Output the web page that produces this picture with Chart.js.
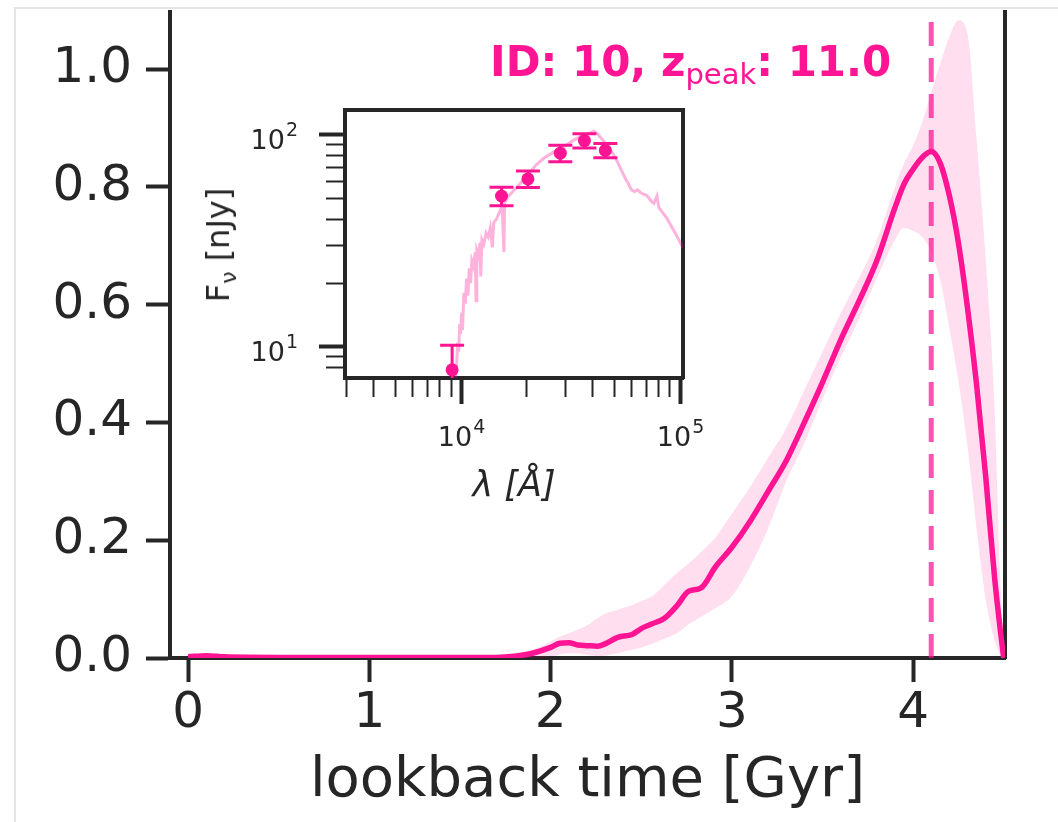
<!DOCTYPE html>
<html lang="en">
<head>
<meta charset="UTF-8">
<title>SFH with SED inset</title>
<style>
  body { margin: 0; background: #fff; font-family: "DejaVu Sans", sans-serif; }
  #wrap { position: relative; width: 1058px; height: 822px; overflow: hidden; }
  #frame { position: absolute; left: 14px; top: 7px; right: 0; bottom: 0;
           border-left: 2px solid #e4e4e4; border-top: 2px solid #e4e4e4; }
  #mainChart { position: absolute; left: 0; top: 0; }
  #insetChart { position: absolute; left: 180px; top: 90px; }
  #header { position: absolute; left: 490px; top: 41px; color: #ff1493; font-weight: bold;
            font-size: 42px; line-height: 42px; white-space: nowrap; }
  #header .sub { font-weight: normal; font-size: 29px; position: relative; top: 8px; }
  #insetY { position: absolute; left: 218px; top: 245px; transform: translate(-50%, -50%) rotate(-90deg);
            font-size: 32px; color: #262626; white-space: nowrap; }
  #insetY .sub { font-size: 22px; position: relative; top: 7px; }
</style>
<script src="https://cdn.jsdelivr.net/npm/chart.js@4.4.1/dist/chart.umd.min.js"></script>
</head>
<body>
<div id="wrap">
  <div id="frame"></div>
  <canvas id="mainChart" width="1058" height="822"></canvas>
  <div id="header">ID: 10, z<span class="sub">peak</span>: 11.0</div>
  <canvas id="insetChart" width="560" height="430"></canvas>
  <div id="insetY">F<span class="sub">ν</span> [nJy]</div>
</div>
<script>
    const INK = '#262626';
    const PINK = '#ff1493';
    const FONT = '"DejaVu Sans", sans-serif';

    // main panel: star formation history against lookback time
    const lookback = [0, 0.1, 0.2, 0.5, 1.0, 1.5, 1.7, 1.8, 1.9, 2.0, 2.05, 2.1, 2.15, 2.2, 2.26, 2.3, 2.37,
        2.45, 2.5, 2.56, 2.63, 2.7, 2.76, 2.83, 2.91, 3.0, 3.1, 3.2, 3.3, 3.4, 3.5, 3.6, 3.7, 3.8, 3.9,
        3.95, 4.0, 4.05, 4.1, 4.15, 4.2, 4.25, 4.3, 4.35, 4.4, 4.45, 4.48, 4.5];
    const sfhMedian = [0.002, 0.004, 0.002, 0.001, 0.001, 0.001, 0.001, 0.003, 0.008, 0.018, 0.025, 0.026,
        0.022, 0.021, 0.020, 0.024, 0.035, 0.040, 0.050, 0.058, 0.068, 0.090, 0.113, 0.119, 0.155, 0.188,
        0.232, 0.283, 0.335, 0.400, 0.468, 0.540, 0.605, 0.675, 0.765, 0.805, 0.830, 0.850, 0.860, 0.840,
        0.785, 0.705, 0.595, 0.465, 0.310, 0.135, 0.050, 0.0];
    const sfhHigh = [0.004, 0.006, 0.004, 0.002, 0.002, 0.002, 0.002, 0.006, 0.014, 0.028, 0.036, 0.042,
        0.048, 0.055, 0.068, 0.075, 0.082, 0.090, 0.097, 0.105, 0.125, 0.145, 0.160, 0.180, 0.205, 0.245,
        0.290, 0.340, 0.390, 0.455, 0.520, 0.585, 0.645, 0.710, 0.800, 0.840, 0.870, 0.910, 0.960, 1.010,
        1.055, 1.083, 1.060, 0.880, 0.680, 0.420, 0.140, 0.020];
    const sfhLow = [0, 0, 0, 0, 0, 0, 0, 0, 0, 0.003, 0.006, 0.008, 0.008, 0.005, 0.003, 0.004, 0.008,
        0.014, 0.018, 0.024, 0.033, 0.043, 0.057, 0.070, 0.085, 0.105, 0.155, 0.220, 0.300, 0.365, 0.440,
        0.510, 0.575, 0.645, 0.710, 0.730, 0.725, 0.715, 0.690, 0.640, 0.560, 0.470, 0.360, 0.220, 0.100,
        0.030, 0.005, 0];
    const tPeak = 4.1;
    const xTicks = [0, 1, 2, 3, 4];
    const yTicks = [0, 0.2, 0.4, 0.6, 0.8, 1.0];
    const xRange = [-0.1, 4.507];
    const yRange = [0, 1.097];

    // inset: photometry and best-fit spectrum
    const photWave = [9100, 15300, 20200, 28400, 36600, 45600];
    const photFlux = [7.8, 51.5, 62.0, 82.0, 94.0, 84.5];
    const photErr = [2.4, 5.2, 5.5, 7.3, 7.2, 6.5];
    const specWave = [9300, 9500, 9650, 9750, 9850, 9950, 10050, 10150, 10300, 10450, 10600, 10750, 10900,
        11050, 11200, 11400, 11600, 11700, 11800, 12000, 12200, 12300, 12450, 12700, 13000, 13300, 13600,
        13900, 14100, 14500, 15000, 15400, 15700, 15800, 16000, 16500, 17500, 18500, 20000, 22000, 24000,
        26000, 28000, 30000, 33000, 36000, 38500, 40500, 42000, 43500, 45000, 46500, 48000, 50000, 52000,
        54000, 56000, 58000, 60000, 62000, 64000, 66000, 68000, 70000, 72000, 74000, 76000, 78500, 80000,
        87000, 95000, 103000];
    const specFlux = [6.0, 7.5, 10.5, 9.5, 12.8, 11.5, 14.5, 12.0, 18.0, 16.0, 21.0, 17.5, 23.5, 20.0, 25.5,
        24.0, 28.0, 16.5, 28.5, 27.0, 31.0, 21.5, 32.0, 30.5, 34.5, 33.0, 36.5, 29.5, 38.5, 40.0, 43.5,
        46.0, 28.0, 48.0, 49.0, 51.5, 55.0, 58.5, 64.0, 72.0, 78.0, 82.0, 86.0, 89.0, 95.0, 99.5, 102.0,
        104.0, 101.0, 97.0, 93.0, 89.0, 85.0, 80.0, 74.0, 68.0, 63.0, 59.0, 55.0, 54.0, 55.0, 53.5, 52.5,
        52.0, 50.5, 48.5, 47.5, 51.5, 45.5, 40.5, 34.5, 29.5];
    const insetXTicks = [3000, 4000, 5000, 6000, 7000, 8000, 9000, 10000, 20000, 30000, 40000, 50000,
        60000, 70000, 80000, 90000, 100000];
    const insetYTicks = [8, 9, 10, 20, 30, 40, 50, 60, 70, 80, 90, 100];
    const insetXRange = [2950, 103200];
    const insetYRange = [7.14, 131];

    const pts = (xs, ys) => xs.map((x, i) => ({x: x, y: ys[i]}));
    const isDecade = v => Math.abs(Math.log10(v) - Math.round(Math.log10(v))) < 1e-9;

    // drop the label overhang padding chart.js reserves at the axis ends
    function noOverhang(s) {
        s.paddingTop = 0; s.paddingBottom = 0; s.paddingLeft = 0; s.paddingRight = 0;
    }

    // bare spine on the far side of a chart (no ticks, no labels)
    function spine(position) {
        return {
            position: position,
            type: 'linear',
            ticks: {display: false},
            grid: {display: false, drawTicks: false},
            border: {display: true, color: INK, width: 4},
            afterFit: s => {
                if (position === 'top' || position === 'bottom') s.height = 0; else s.width = 0;
                noOverhang(s);
            }
        };
    }

    // main chart
    new Chart(document.getElementById('mainChart'), {
        type: 'line',
        data: {
            datasets: [
                {
                    data: [{x: tPeak, y: yRange[0]}, {x: tPeak, y: yRange[1]}],
                    borderColor: 'rgba(255,20,147,0.72)', borderWidth: 5, borderDash: [24, 12],
                    pointRadius: 0, order: 0
                },
                {
                    data: pts(lookback, sfhMedian), borderColor: PINK, borderWidth: 5.5,
                    pointRadius: 0, cubicInterpolationMode: 'monotone', order: 1
                },
                {
                    data: pts(lookback, sfhHigh), borderColor: 'transparent', borderWidth: 0,
                    pointRadius: 0, cubicInterpolationMode: 'monotone',
                    fill: '+1', backgroundColor: 'rgba(255,20,147,0.14)', order: 2
                },
                {
                    data: pts(lookback, sfhLow), borderColor: 'transparent', borderWidth: 0,
                    pointRadius: 0, cubicInterpolationMode: 'monotone', fill: false, order: 3
                }
            ]
        },
        options: {
            responsive: false,
            animation: false,
            layout: {padding: {top: 12, right: 53, left: 0, bottom: 0}},
            plugins: {legend: {display: false}, tooltip: {enabled: false}},
            scales: {
                x: {
                    type: 'linear', min: xRange[0], max: xRange[1],
                    afterBuildTicks: s => { s.ticks = xTicks.map(v => ({value: v})); },
                    afterFit: s => { s.height = 164; noOverhang(s); },
                    grid: {drawOnChartArea: false, drawTicks: true, tickLength: 24, tickWidth: 4, tickColor: INK},
                    border: {display: true, color: INK, width: 4},
                    ticks: {
                        color: INK, font: {family: FONT, size: 50}, padding: 2,
                        maxRotation: 0, autoSkip: false, callback: v => String(v)
                    },
                    title: {
                        display: true, text: 'lookback time [Gyr]', color: INK,
                        font: {family: FONT, size: 56}, padding: {top: 0, bottom: 7}
                    }
                },
                y: {
                    type: 'linear', min: yRange[0], max: yRange[1],
                    afterBuildTicks: s => { s.ticks = yTicks.map(v => ({value: v})); },
                    afterFit: s => { s.width = 170; noOverhang(s); },
                    grid: {drawOnChartArea: false, drawTicks: true, tickLength: 24, tickWidth: 4, tickColor: INK},
                    border: {display: true, color: INK, width: 4},
                    ticks: {
                        color: INK, font: {family: FONT, size: 50}, padding: 14,
                        autoSkip: false, callback: v => v.toFixed(1)
                    }
                },
                yRight: spine('right')
            }
        }
    });

    // error bars for the photometry in the inset
    const errorBars = {
        id: 'errorBars',
        afterDatasetsDraw(chart) {
            const {ctx, chartArea, scales} = chart;
            const cap = 12;
            ctx.save();
            ctx.beginPath();
            ctx.rect(chartArea.left, chartArea.top, chartArea.width, chartArea.height);
            ctx.clip();
            ctx.strokeStyle = PINK;
            ctx.lineWidth = 3;
            photWave.forEach((w, i) => {
                const px = scales.x.getPixelForValue(w);
                const hi = scales.y.getPixelForValue(photFlux[i] + photErr[i]);
                const lo = scales.y.getPixelForValue(photFlux[i] - photErr[i]);
                ctx.beginPath();
                ctx.moveTo(px, hi); ctx.lineTo(px, lo);
                ctx.moveTo(px - cap, hi); ctx.lineTo(px + cap, hi);
                ctx.moveTo(px - cap, lo); ctx.lineTo(px + cap, lo);
                ctx.stroke();
            });
            ctx.restore();
        }
    };

    const whiteArea = {
        id: 'whiteArea',
        beforeDraw(chart) {
            const {ctx, chartArea} = chart;
            ctx.save();
            ctx.fillStyle = '#fff';
            ctx.fillRect(chartArea.left, chartArea.top, chartArea.width, chartArea.height);
            ctx.restore();
        }
    };

    // "10^n" labels on the decade ticks of the inset's log axes
    const powerLabels = {
        id: 'powerLabels',
        afterDraw(chart) {
            const {ctx, chartArea, scales} = chart;
            const base = '27px ' + FONT, sup = '19px ' + FONT;
            const measure = exp => {
                ctx.font = base; const wb = ctx.measureText('10').width;
                ctx.font = sup; const we = ctx.measureText(exp).width;
                return [wb, we];
            };
            const draw = (x0, y0, exp, wb) => {
                ctx.font = base; ctx.fillText('10', x0, y0);
                ctx.font = sup; ctx.fillText(exp, x0 + wb + 1, y0 - 13);
            };
            ctx.save();
            ctx.fillStyle = INK;
            ctx.textBaseline = 'alphabetic';
            ctx.textAlign = 'left';
            scales.x.ticks.filter(t => isDecade(t.value)).forEach(t => {
                const exp = String(Math.round(Math.log10(t.value)));
                const [wb, we] = measure(exp);
                const px = scales.x.getPixelForValue(t.value);
                draw(px - (wb + we) / 2, chartArea.bottom + 68, exp, wb);
            });
            scales.y.ticks.filter(t => isDecade(t.value)).forEach(t => {
                const exp = String(Math.round(Math.log10(t.value)));
                const [wb, we] = measure(exp);
                const py = scales.y.getPixelForValue(t.value);
                draw(chartArea.left - 47 - wb - we - 1, py + 14, exp, wb);
            });
            ctx.restore();
        }
    };

    // log axes: minor ticks shortened with a dash pattern
    const tickWidth = c => isDecade(c.tick.value) ? 4 : 2;

    new Chart(document.getElementById('insetChart'), {
        type: 'line',
        data: {
            datasets: [
                {
                    data: pts(photWave, photFlux), showLine: false, pointRadius: 6.5,
                    pointBackgroundColor: PINK, pointBorderColor: PINK, pointBorderWidth: 0, order: 0
                },
                {
                    data: pts(specWave, specFlux), borderColor: 'rgba(255,20,147,0.32)', borderWidth: 3,
                    pointRadius: 0, tension: 0, order: 1
                }
            ]
        },
        options: {
            responsive: false,
            animation: false,
            layout: {padding: {top: 20, right: 57, left: 0, bottom: 0}},
            plugins: {legend: {display: false}, tooltip: {enabled: false}},
            scales: {
                x: {
                    type: 'logarithmic', min: insetXRange[0], max: insetXRange[1],
                    afterBuildTicks: s => { s.ticks = insetXTicks.map(v => ({value: v})); },
                    afterFit: s => { s.height = 142; noOverhang(s); },
                    grid: {
                        drawOnChartArea: false, drawTicks: true, tickLength: 26, tickColor: INK,
                        tickWidth: tickWidth,
                        tickBorderDash: c => isDecade(c.tick.value) ? [] : [17, 100]
                    },
                    border: {display: true, color: INK, width: 4},
                    ticks: {display: false, autoSkip: false},
                    title: {
                        display: true, text: 'λ [Å]', color: INK,
                        font: {family: FONT, size: 35, style: 'italic'}, padding: {top: 0, bottom: 12}
                    }
                },
                y: {
                    type: 'logarithmic', min: insetYRange[0], max: insetYRange[1],
                    afterBuildTicks: s => { s.ticks = insetYTicks.map(v => ({value: v})); },
                    afterFit: s => { s.width = 165; noOverhang(s); },
                    grid: {
                        drawOnChartArea: false, drawTicks: true, tickLength: 26, tickColor: INK,
                        tickWidth: tickWidth,
                        tickBorderDash: c => isDecade(c.tick.value) ? [] : [17, 7],
                        tickBorderDashOffset: c => isDecade(c.tick.value) ? 0 : 17
                    },
                    border: {display: true, color: INK, width: 4},
                    ticks: {display: false, autoSkip: false}
                },
                xTop: spine('top'),
                yRight: spine('right')
            }
        },
        plugins: [whiteArea, errorBars, powerLabels]
    });
</script>
</body>
</html>
